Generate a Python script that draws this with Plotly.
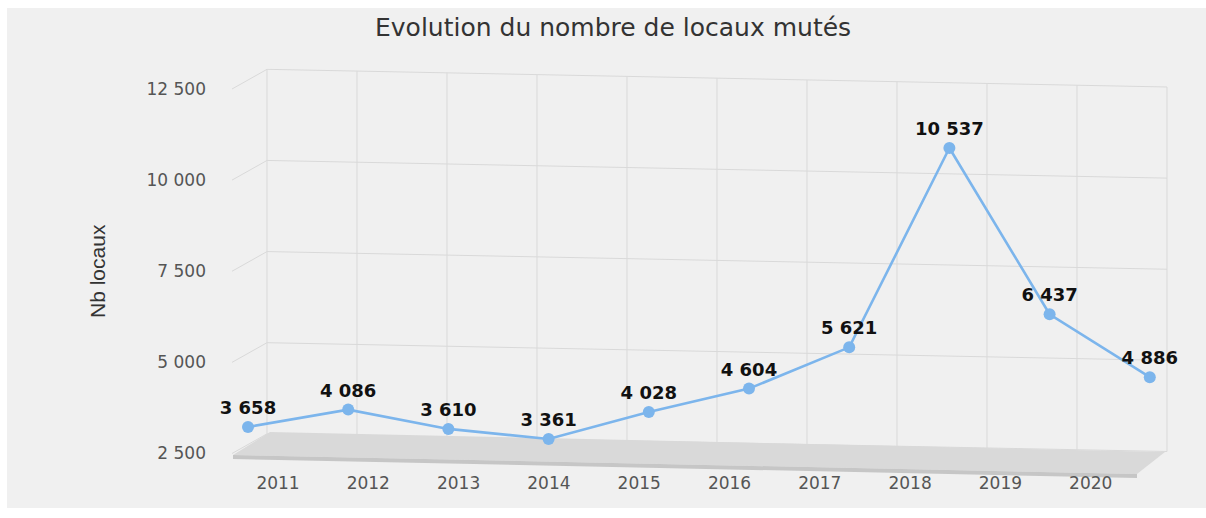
import plotly.graph_objects as go

# ---------------- data ----------------
years = ["2011", "2012", "2013", "2014", "2015", "2016", "2017", "2018", "2019", "2020"]
nb_locaux = [3658, 4086, 3610, 3361, 4028, 4604, 5621, 10537, 6437, 4886]
y_tick_values = [2500, 5000, 7500, 10000, 12500]
y_tick_labels = ["2 500", "5 000", "7 500", "10 000", "12 500"]
chart_title = "Evolution du nombre de locaux mutés"
y_title = "Nb locaux"

# ---------------- geometry helpers (screen pixel -> paper) ----------------
W, H = 1206, 518


def px(x):
    return x / W


def py(y):
    return 1 - y / H


def fmt(v):
    return f"{v:,}".replace(",", " ")


LINE_COLOR = "#7cb5ec"
PANEL = "#f0f0f0"
GRID = "#d9d9d9"
FONT = "DejaVu Sans"

n = len(years)
idx = list(range(n))
ymin, ymax = y_tick_values[0], y_tick_values[-1]

# point plane: category centres at 248 + 100.2*i px, value v -> 439 - (v-3361)*KY px
X0, DX = 248, 100.2
KY = 0.04055


def ypt(v):
    return 439 - (v - 3361) * KY


XD0, XD1 = X0 - DX / 2, X0 + (n - 0.5) * DX     # x domain (screen px)
YT, YB = ypt(ymax), ypt(ymin)                    # y domain (screen px)

# label axis (overlaying, shares domain): 2500 -> 453.5 px, 12500 -> 89 px
KL = (453.5 - 89) / (ymax - ymin)
y2_range = [ymin - (YB - 453.5) / KL, ymin + (453.5 - YT) / KL]
# category label axis: i -> 278 + 90.3*i px
LX0, LDX = 278, 90.3
x2_range = [(XD0 - LX0) / LDX, (XD1 - LX0) / LDX]

fig = go.Figure()

fig.add_trace(go.Scatter(
    x=idx, y=nb_locaux,
    mode="lines+markers+text",
    text=[fmt(v) for v in nb_locaux],
    textposition="top center",
    textfont=dict(family=FONT, size=18, color="#111111", weight="bold"),
    line=dict(color=LINE_COLOR, width=2.6),
    marker=dict(color=LINE_COLOR, size=12),
    cliponaxis=False,
    showlegend=False,
    hoverinfo="skip",
))
# carrier for the label axes (draws nothing)
fig.add_trace(go.Scatter(x=idx, y=[None] * n, xaxis="x2", yaxis="y2",
                         mode="markers", showlegend=False, hoverinfo="skip"))

# ---------------- shapes (3D-like frame) ----------------
shapes = []
shapes.append(dict(type="rect", xref="paper", yref="paper", layer="below",
                   x0=px(7), x1=1, y0=py(508), y1=py(8),
                   fillcolor=PANEL, line=dict(width=0)))

WL, WR = 267, 1167          # back wall left/right edges (px)
OFF_L, OFF_R = 540, 55      # perspective offset of wall, in label-axis units

for v in y_tick_values:
    shapes.append(dict(type="line", xref="paper", yref="y2", layer="below",
                       x0=px(WL), x1=px(WR), y0=v + OFF_L, y1=v + OFF_R,
                       line=dict(color=GRID, width=1)))
    shapes.append(dict(type="line", xref="paper", yref="y2", layer="below",
                       x0=px(232), x1=px(WL), y0=v, y1=v + OFF_L,
                       line=dict(color=GRID, width=1)))
for k in range(n + 1):
    t = k / n
    xx = WL + t * (WR - WL)
    off = OFF_L + (OFF_R - OFF_L) * t
    shapes.append(dict(type="line", xref="paper", yref="y2", layer="below",
                       x0=px(xx), x1=px(xx), y0=ymin + off, y1=ymax + off,
                       line=dict(color=GRID, width=1)))


def path(pts):
    return "M " + " L ".join(f"{px(a):.5f},{py(b):.5f}" for a, b in pts) + " Z"


shapes.append(dict(type="path", xref="paper", yref="paper", layer="below",
                   path=path([(270, 432), (1165, 452), (1137, 474), (233, 455)]),
                   fillcolor="#d9d9d9", line=dict(width=0)))
shapes.append(dict(type="path", xref="paper", yref="paper", layer="below",
                   path=path([(233, 455), (1137, 474), (1137, 478), (233, 459)]),
                   fillcolor="#c6c6c6", line=dict(width=0)))

fig.update_layout(
    width=W, height=H,
    margin=dict(l=0, r=0, t=0, b=0),
    paper_bgcolor="white",
    plot_bgcolor="rgba(0,0,0,0)",
    shapes=shapes,
    xaxis=dict(domain=[px(XD0), px(XD1)], range=[-0.5, n - 0.5],
               visible=False, fixedrange=True),
    yaxis=dict(domain=[py(YB), py(YT)], range=[ymin, ymax],
               visible=False, fixedrange=True),
    xaxis2=dict(overlaying="x", anchor="free", position=py(471), side="bottom",
                range=x2_range, tickvals=idx, ticktext=years, ticks="",
                showgrid=False, showline=False, zeroline=False, fixedrange=True,
                tickfont=dict(family=FONT, size=17, color="#555555")),
    yaxis2=dict(overlaying="y", anchor="free", position=px(206), side="left",
                range=y2_range, tickvals=y_tick_values, ticktext=y_tick_labels,
                ticks="", showgrid=False, showline=False, zeroline=False,
                fixedrange=True,
                tickfont=dict(family=FONT, size=17, color="#555555")),
    annotations=[
        dict(text=chart_title, xref="paper", yref="paper", x=px(613), y=py(27),
             xanchor="center", yanchor="middle", showarrow=False,
             font=dict(family=FONT, size=25, color="#333333")),
        dict(text=y_title, xref="paper", yref="paper", x=px(97), y=py(271),
             xanchor="center", yanchor="middle", showarrow=False, textangle=-90,
             font=dict(family="Liberation Sans", size=21, color="#333333")),
    ],
)

# remove the default 8px page margin so the figure fills the window exactly
fig.write_html("out.html",
               config={"displayModeBar": False},
               post_script="document.body.style.margin='0';"
                           "document.body.style.overflow='hidden';")
